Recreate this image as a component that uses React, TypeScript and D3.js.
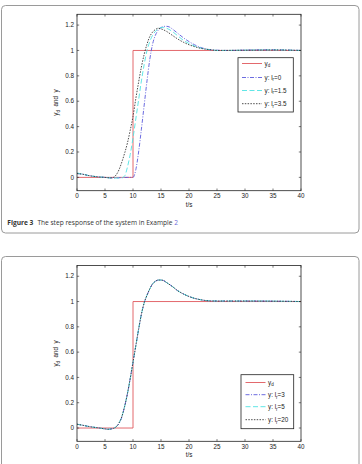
import React from "react";
import * as d3 from "d3";

// ---------- data ----------
const xTicks = [0, 5, 10, 15, 20, 25, 30, 35, 40];
const yTicks = [0, 0.2, 0.4, 0.6, 0.8, 1, 1.2];
const yTickLabels = ["0", "0.2", "0.4", "0.6", "0.8", "1", "1.2"];

const stepT = [0, 10, 10, 40];
const stepY = [0, 0, 1, 1];

// Figure 3 (top)
const topT_lr0 = [0, 1, 2, 3, 4, 5, 6, 7, 8, 9, 10, 10.5, 11, 11.5, 12, 12.5, 13, 13.5, 14, 14.5, 15, 15.5, 16, 16.5, 17, 18, 19, 20, 21, 22, 23, 24, 25, 27, 30, 35, 40];
const topY_lr0 = [0.03, 0.025, 0.015, 0.008, 0.003, 0, -0.004, -0.004, -0.002, 0, 0, 0.06, 0.2, 0.38, 0.57, 0.76, 0.93, 1.05, 1.12, 1.16, 1.18, 1.19, 1.19, 1.185, 1.17, 1.135, 1.1, 1.07, 1.045, 1.025, 1.012, 1.005, 1.002, 1.0, 1.003, 1.005, 1.0];

const topT_lr15 = [0, 1, 2, 3, 4, 5, 6, 7, 8, 8.5, 9, 9.5, 10, 10.5, 11, 11.5, 12, 12.5, 13, 13.5, 14, 14.5, 15, 15.5, 16, 17, 18, 19, 20, 21, 22, 23, 24, 25, 30, 35, 40];
const topY_lr15 = [0.035, 0.025, 0.015, 0.008, 0.003, 0, -0.005, -0.005, -0.003, 0.01, 0.08, 0.18, 0.31, 0.46, 0.61, 0.76, 0.89, 1.0, 1.07, 1.12, 1.15, 1.17, 1.18, 1.18, 1.175, 1.15, 1.115, 1.08, 1.055, 1.035, 1.02, 1.01, 1.005, 1.0, 1.002, 1.004, 1.0];

const topT_lr35 = [0, 1, 2, 3, 4, 5, 6, 6.5, 7, 7.5, 8, 8.5, 9, 9.5, 10, 10.5, 11, 11.5, 12, 12.5, 13, 13.5, 14, 14.5, 15, 16, 17, 18, 19, 20, 21, 22, 23, 24, 25, 30, 35, 40];
const topY_lr35 = [0.03, 0.025, 0.015, 0.008, 0.003, 0, -0.004, 0, 0.02, 0.06, 0.12, 0.19, 0.27, 0.37, 0.48, 0.62, 0.75, 0.87, 0.97, 1.05, 1.11, 1.145, 1.165, 1.175, 1.17, 1.15, 1.12, 1.09, 1.065, 1.045, 1.03, 1.018, 1.01, 1.005, 1.0, 1.002, 1.004, 1.0];

// bottom figure
const botT = [0, 1, 2, 3, 4, 5, 5.5, 6, 6.5, 7, 7.5, 8, 8.5, 9, 9.5, 10, 10.5, 11, 11.5, 12, 12.5, 13, 13.5, 14, 14.5, 15, 15.5, 16, 17, 18, 19, 20, 21, 22, 23, 24, 25, 30, 35, 40];
const botY_lr3 = [0.03, 0.022, 0.013, 0.006, 0.0, -0.007, -0.01, -0.008, -0.003, 0.01, 0.035, 0.085, 0.17, 0.27, 0.39, 0.52, 0.65, 0.78, 0.9, 0.99, 1.05, 1.1, 1.14, 1.16, 1.17, 1.17, 1.165, 1.15, 1.12, 1.085, 1.06, 1.04, 1.025, 1.015, 1.008, 1.005, 1.004, 1.004, 1.003, 1.0];
const botY_lr5 = [0.03, 0.022, 0.013, 0.006, 0.0, -0.007, -0.01, -0.008, -0.003, 0.01, 0.04, 0.09, 0.17, 0.27, 0.39, 0.52, 0.65, 0.78, 0.9, 0.99, 1.05, 1.1, 1.14, 1.16, 1.17, 1.17, 1.165, 1.15, 1.12, 1.085, 1.06, 1.04, 1.025, 1.015, 1.008, 1.005, 1.004, 1.004, 1.003, 1.0];
const botY_lr20 = [0.03, 0.022, 0.013, 0.006, 0.0, -0.007, -0.01, -0.008, -0.003, 0.01, 0.04, 0.09, 0.17, 0.27, 0.39, 0.52, 0.65, 0.78, 0.9, 0.99, 1.05, 1.1, 1.14, 1.16, 1.17, 1.17, 1.165, 1.15, 1.12, 1.085, 1.06, 1.04, 1.025, 1.015, 1.008, 1.005, 1.004, 1.004, 1.003, 1.0];

const topLegend = ["0", "1.5", "3.5"];
const botLegend = ["3", "5", "20"];

// ---------- styles ----------
const RED = "#e0585c";
const BLUE = "#5b5bdc";
const CYAN = "#4fe3e3";
const BLACK = "#3a3a3a";
const FONT = "'Liberation Sans', Arial, sans-serif";

type Series = { t: number[]; y: number[]; color: string; dash: string };

function Chart(props: {
  top: number;
  bottom: number;
  series: Series[];
  labels: string[];
  legend: { x: number; y: number; w: number; h: number; lineX0: number; lineX1: number; textX: number; rows: number[] };
}) {
  const { top, bottom, series, labels, legend } = props;
  const left = 77;
  const right = 301;
  const x = d3.scaleLinear().domain([0, 40]).range([left, right]);
  const y = d3.scaleLinear().domain([-0.105, 1.285]).range([bottom, top]);
  const line = d3
    .line<[number, number]>()
    .x((d) => x(d[0]))
    .y((d) => y(d[1]))
    .curve(d3.curveMonotoneX);
  const stepLine = d3
    .line<[number, number]>()
    .x((d) => x(d[0]))
    .y((d) => y(d[1]));
  const stepPts = stepT.map((t, i) => [t, stepY[i]] as [number, number]);
  const tk = 2.2;
  const allSeries = [{ color: RED, dash: "" }, ...series];
  return (
    <g>
      <path d={stepLine(stepPts) || ""} fill="none" stroke={RED} strokeWidth={0.9} />
      {series.map((s, i) => (
        <path
          key={i}
          d={line(s.t.map((t, j) => [t, s.y[j]] as [number, number])) || ""}
          fill="none"
          stroke={s.color}
          strokeWidth={0.9}
          strokeDasharray={s.dash}
        />
      ))}
      {/* axes box */}
      <rect x={left} y={top} width={right - left} height={bottom - top} fill="none" stroke="#222" strokeWidth={0.8} />
      {xTicks.map((t) => (
        <g key={"x" + t}>
          <line x1={x(t)} x2={x(t)} y1={bottom} y2={bottom - tk} stroke="#222" strokeWidth={0.6} />
          <line x1={x(t)} x2={x(t)} y1={top} y2={top + tk} stroke="#222" strokeWidth={0.6} />
          <text x={x(t)} y={bottom + 7.5} fontSize={6.3} fontFamily={FONT} textAnchor="middle" fill="#222">
            {t}
          </text>
        </g>
      ))}
      {yTicks.map((v, i) => (
        <g key={"y" + v}>
          <line x1={left} x2={left + tk} y1={y(v)} y2={y(v)} stroke="#222" strokeWidth={0.6} />
          <line x1={right} x2={right - tk} y1={y(v)} y2={y(v)} stroke="#222" strokeWidth={0.6} />
          <text x={left - 3} y={y(v) + 2.2} fontSize={6.3} fontFamily={FONT} textAnchor="end" fill="#222">
            {yTickLabels[i]}
          </text>
        </g>
      ))}
      <text x={(left + right) / 2} y={bottom + 16} fontSize={6.3} fontFamily={FONT} textAnchor="middle" fill="#222">
        t/s
      </text>
      <text
        transform={`translate(${left - 19},${(top + bottom) / 2}) rotate(-90)`}
        fontSize={6.3}
        fontFamily={FONT}
        textAnchor="middle"
        fill="#222"
      >
        y<tspan fontSize={4.5} dy={1.8}>d</tspan>
        <tspan dy={-1.8}>{"\u00a0\u00a0and\u00a0\u00a0y"}</tspan>
      </text>
      {/* legend */}
      <rect x={legend.x} y={legend.y} width={legend.w} height={legend.h} fill="#fff" stroke="#222" strokeWidth={0.8} />
      {allSeries.map((s, i) => (
        <g key={"l" + i}>
          <line
            x1={legend.lineX0}
            x2={legend.lineX1}
            y1={legend.rows[i]}
            y2={legend.rows[i]}
            stroke={s.color}
            strokeWidth={0.9}
            strokeDasharray={s.dash}
          />
          <text x={legend.textX} y={legend.rows[i] + 2} fontSize={6.3} fontFamily={FONT} fill="#222">
            {i === 0 ? (
              <>
                y<tspan fontSize={4.5} dy={1.8}>d</tspan>
              </>
            ) : (
              <>
                y: l<tspan fontSize={4.5} dy={1.8}>r</tspan>
                <tspan dy={-1.8}>={labels[i - 1]}</tspan>
              </>
            )}
          </text>
        </g>
      ))}
    </g>
  );
}

export default function App() {
  const topSeries: Series[] = [
    { t: topT_lr0, y: topY_lr0, color: BLUE, dash: "4,1.5,1,1.5" },
    { t: topT_lr15, y: topY_lr15, color: CYAN, dash: "5,2.5" },
    { t: topT_lr35, y: topY_lr35, color: BLACK, dash: "1.5,1.3" },
  ];
  const botSeries: Series[] = [
    { t: botT, y: botY_lr3, color: BLUE, dash: "4,1.5,1,1.5" },
    { t: botT, y: botY_lr5, color: CYAN, dash: "5,2.5" },
    { t: botT, y: botY_lr20, color: BLACK, dash: "1.5,1.3" },
  ];
  return (
    <svg
      width={362}
      height={464}
      style={{ position: "absolute", left: 0, top: 0, background: "#fff" }}
    >
      <rect x={1.5} y={5.5} width={357.5} height={227.5} rx={4} fill="#fff" stroke="#9a9a9a" strokeWidth={1} />
      <rect x={1.5} y={256.5} width={357.5} height={240} rx={4} fill="#fff" stroke="#9a9a9a" strokeWidth={1} />
      <Chart
        top={14.3}
        bottom={190.7}
        series={topSeries}
        labels={topLegend}
        legend={{ x: 238, y: 57.7, w: 55.3, h: 54.3, lineX0: 242, lineX1: 262, textX: 264.5, rows: [63.5, 77.5, 90.5, 103.7] }}
      />
      <Chart
        top={265.5}
        bottom={441.3}
        series={botSeries}
        labels={botLegend}
        legend={{ x: 241, y: 374.7, w: 52.7, h: 54, lineX0: 245.5, lineX1: 265.5, textX: 268, rows: [382.5, 394.7, 406.7, 419.7] }}
      />
      <text x={7.3} y={225} fontSize={6.6} fontFamily="'Open Sans', 'Noto Sans', sans-serif" fill="#333">
        <tspan fontWeight="bold">Figure 3</tspan>
        <tspan dx={4}>The step response of the system in Example </tspan>
        <tspan fill="#6a6ad8">2</tspan>
      </text>
    </svg>
  );
}
